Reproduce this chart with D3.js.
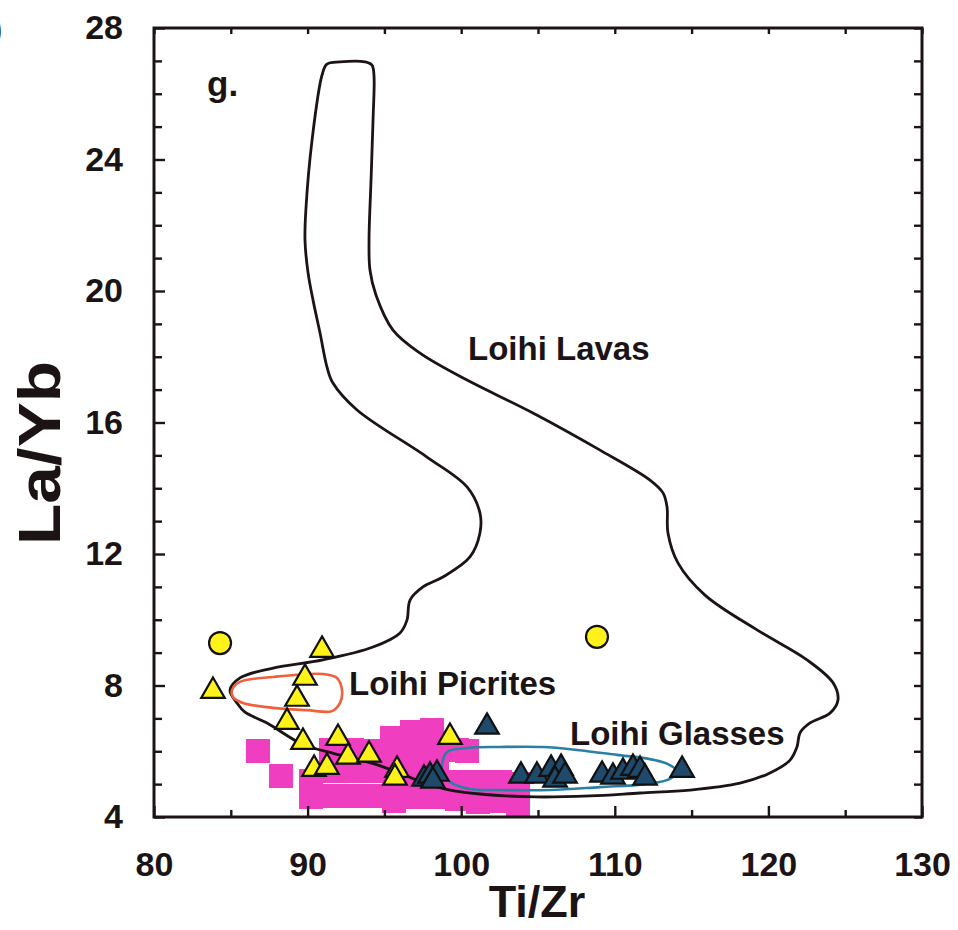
<!DOCTYPE html>
<html>
<head>
<meta charset="utf-8">
<script src="https://cdn.jsdelivr.net/npm/d3@7"></script>
<style>
  body { margin: 0; background: #fff; }
  text { font-family: "Liberation Sans", Arial, Helvetica, sans-serif; font-weight: bold; fill: #1c1414; }
</style>
</head>
<body>
<svg id="chart" width="958" height="930"></svg>
<script>
// Axis ticks
const xMajor = [80, 90, 100, 110, 120, 130];
const xMinor = [85, 95, 105, 115, 125];
const yMajor = [4, 8, 12, 16, 20, 24, 28];
const yMinor = [5, 6, 7, 9, 10, 11, 13, 14, 15, 17, 18, 19, 21, 22, 23, 25, 26, 27];

// Loihi Lavas field boundary (Ti/Zr, La/Yb)
const lavasX = [90.94, 91.26, 92.11, 93.74, 94.19, 94.32, 94.26, 94.13, 94.00, 94.06,
  94.45, 95.56, 97.32, 100.38, 104.67, 109.04, 112.29, 113.14, 113.40, 113.46,
  114.11, 115.87, 119.26, 122.51, 124.21, 124.53, 124.01, 122.71, 122.06, 121.86,
  121.41, 120.10, 118.15, 114.90, 111.64, 108.39, 104.80, 101.22, 99.27, 97.45,
  96.15, 94.39, 91.78, 89.64, 87.36, 85.92, 85.40, 84.95, 85.60, 87.75,
  91.00, 94.26, 96.02, 96.47, 96.67, 97.51, 98.81, 100.57, 101.22, 101.22,
  100.38, 97.77, 93.22, 91.65, 91.26, 90.81, 90.35, 90.03, 89.83, 89.90, 90.29];
const lavasY = [26.57, 26.90, 26.97, 26.97, 26.87, 26.57, 25.20, 23.38, 21.55, 20.64,
  19.88, 18.81, 18.11, 17.29, 16.29, 15.16, 14.25, 13.86, 13.43, 12.64,
  11.73, 10.75, 9.69, 8.78, 8.08, 7.56, 7.16, 6.86, 6.56, 6.13,
  5.73, 5.34, 5.03, 4.82, 4.73, 4.64, 4.61, 4.70, 4.82, 5.06,
  5.31, 5.61, 5.92, 6.22, 6.86, 7.19, 7.47, 7.86, 8.23, 8.53,
  8.78, 9.17, 9.60, 9.99, 10.60, 11.00, 11.30, 11.91, 12.64, 13.25,
  14.04, 14.95, 16.38, 17.20, 17.69, 18.72, 19.73, 20.55, 21.55, 22.56, 24.59];

// Loihi Picrites field boundary
const picritesX = [85.08, 85.60, 87.75, 91.00, 91.91, 92.24, 92.11, 91.59, 89.96, 87.75, 85.79, 85.14];
const picritesY = [7.86, 8.11, 8.26, 8.35, 8.23, 7.86, 7.47, 7.22, 7.25, 7.32, 7.47, 7.65];

// Loihi Glasses field boundary
const glassesX = [98.75, 99.08, 100.38, 102.53, 105.33, 107.54, 110.14, 112.29, 113.46, 114.05,
  113.59, 111.97, 109.04, 105.78, 102.53, 100.57, 99.40, 98.81];
const glassesY = [5.58, 5.98, 6.10, 6.13, 6.13, 6.04, 5.89, 5.76, 5.61, 5.40,
  5.16, 5.00, 4.91, 4.82, 4.82, 4.85, 5.03, 5.31];

// Magenta squares
const pinkX = [86.8, 88.3, 90.2, 90.2, 91.5, 92.9, 91.5, 92.9, 91.5, 92.9,
  94.3, 94.3, 94.3, 95.5, 95.6, 95.6, 95.6, 96.8, 97.0, 97.0,
  97.0, 98.1, 98.4, 98.4, 98.4, 99.7, 100.4, 99.7, 99.7, 101.1,
  101.1, 102.5, 102.5, 103.7, 103.7];
const pinkY = [6.0, 5.25, 5.1, 4.6, 6.05, 6.05, 5.4, 5.4, 4.65, 4.65,
  5.4, 4.65, 6.0, 6.4, 5.7, 5.05, 4.5, 6.6, 6.0, 5.3,
  4.6, 6.65, 6.0, 5.3, 4.6, 6.05, 6.0, 5.05, 4.55, 5.05,
  4.45, 5.05, 4.5, 5.0, 4.35];

// Yellow circles
const circX = [84.3, 108.84];
const circY = [9.29, 9.48];

// Yellow triangles
const yTriX = [83.84, 90.94, 89.83, 89.31, 88.66, 89.70, 91.98, 92.63, 94.00, 90.42, 91.26, 95.82, 95.69, 99.27];
const yTriY = [7.83, 9.08, 8.23, 7.59, 6.89, 6.28, 6.40, 5.83, 5.89, 5.46, 5.52, 5.43, 5.19, 6.43];

// Dark blue triangles
const bTriX = [101.68, 97.58, 97.97, 98.42, 98.16,
  103.89, 104.93, 105.85, 106.50, 106.11, 106.76,
  109.17, 109.88, 110.53, 111.18, 111.64, 111.97, 114.38];
const bTriY = [6.74, 5.16, 5.25, 5.31, 5.10,
  5.25, 5.25, 5.46, 5.49, 5.13, 5.25,
  5.28, 5.22, 5.37, 5.49, 5.43, 5.19, 5.43];

const svg = d3.select("#chart");
const x = d3.scaleLinear().domain([80, 130]).range([154, 922]);
const y = d3.scaleLinear().domain([4, 28]).range([817, 28]);
const ink = "#1c1414";

const zip = (a, b) => a.map((v, i) => [v, b[i]]);
const line = d3.line().x(d => x(d[0])).y(d => y(d[1])).curve(d3.curveCatmullRomClosed.alpha(0.5));

// magenta squares
const sq = 24;
svg.append("g").attr("shape-rendering", "crispEdges")
  .selectAll("rect").data(zip(pinkX, pinkY)).join("rect")
  .attr("x", d => Math.round(x(d[0]) - sq / 2)).attr("y", d => Math.round(y(d[1]) - sq / 2))
  .attr("width", sq).attr("height", sq).attr("fill", "#ef3fc0");

// field boundaries
svg.append("path").attr("d", line(zip(lavasX, lavasY)))
  .attr("fill", "none").attr("stroke", ink).attr("stroke-width", 2.8);
svg.append("path").attr("d", line(zip(picritesX, picritesY)))
  .attr("fill", "none").attr("stroke", "#f0603a").attr("stroke-width", 2.6);
svg.append("path").attr("d", line(zip(glassesX, glassesY)))
  .attr("fill", "none").attr("stroke", "#2a80a4").attr("stroke-width", 2.6);

// symbols
const tri = d3.symbol().type(d3.symbolTriangle).size(240);
svg.append("g").selectAll("path").data(zip(bTriX, bTriY)).join("path")
  .attr("d", tri).attr("transform", d => `translate(${x(d[0])},${y(d[1])})`)
  .attr("fill", "#1f4a6c").attr("stroke", "#111").attr("stroke-width", 2.2);
svg.append("g").selectAll("path").data(zip(yTriX, yTriY)).join("path")
  .attr("d", tri).attr("transform", d => `translate(${x(d[0])},${y(d[1])})`)
  .attr("fill", "#fff21a").attr("stroke", "#111").attr("stroke-width", 2.2);
svg.append("g").selectAll("circle").data(zip(circX, circY)).join("circle")
  .attr("cx", d => x(d[0])).attr("cy", d => y(d[1])).attr("r", 11)
  .attr("fill", "#fff21a").attr("stroke", "#111").attr("stroke-width", 2.2);

// axes
function styleAxis(g) {
  g.select(".domain").remove();
  g.selectAll("line").attr("stroke", ink).attr("stroke-width", 2.4);
  g.selectAll("text").attr("fill", ink).style("font-size", "34px")
    .style("font-family", "'Liberation Sans', Arial, sans-serif").style("font-weight", "bold");
}
svg.append("g").attr("transform", "translate(0,817)")
  .call(d3.axisBottom(x).tickValues(xMajor).tickSize(-11).tickPadding(35)).call(styleAxis);
svg.append("g").attr("transform", "translate(0,817)")
  .call(d3.axisBottom(x).tickValues(xMinor).tickSize(-7).tickFormat("")).call(styleAxis);
svg.append("g").attr("transform", "translate(0,28)")
  .call(d3.axisTop(x).tickValues(xMajor.concat(xMinor)).tickSize(-6).tickFormat("")).call(styleAxis);
svg.append("g").attr("transform", "translate(154,0)")
  .call(d3.axisLeft(y).tickValues(yMajor).tickSize(-11).tickPadding(31)).call(styleAxis);
svg.append("g").attr("transform", "translate(154,0)")
  .call(d3.axisLeft(y).tickValues(yMinor).tickSize(-8).tickFormat("")).call(styleAxis);
svg.append("g").attr("transform", "translate(922,0)")
  .call(d3.axisRight(y).tickValues(yMajor.concat(yMinor)).tickSize(-8).tickFormat("")).call(styleAxis);

// frame
svg.append("rect").attr("x", 154).attr("y", 28).attr("width", 768).attr("height", 789)
  .attr("fill", "none").attr("stroke", ink).attr("stroke-width", 3);

// labels
svg.append("text").attr("x", 207).attr("y", 96).style("font-size", "35px").text("g.");
svg.append("text").attr("x", 468).attr("y", 360).style("font-size", "33px").text("Loihi Lavas");
svg.append("text").attr("x", 349).attr("y", 695).style("font-size", "33px").text("Loihi Picrites");
svg.append("text").attr("x", 570).attr("y", 745).style("font-size", "33px").text("Loihi Glasses");
svg.append("text").attr("x", 537).attr("y", 917).attr("text-anchor", "middle").style("font-size", "45px").text("Ti/Zr");
svg.append("text").attr("transform", "translate(60,453) rotate(-90)").attr("text-anchor", "middle")
  .attr("textLength", 184).attr("lengthAdjust", "spacingAndGlyphs")
  .style("font-size", "60px").text("La/Yb");
svg.append("text").attr("x", -9).attr("y", 40).style("font-size", "34px").text(")");
</script>
</body>
</html>
